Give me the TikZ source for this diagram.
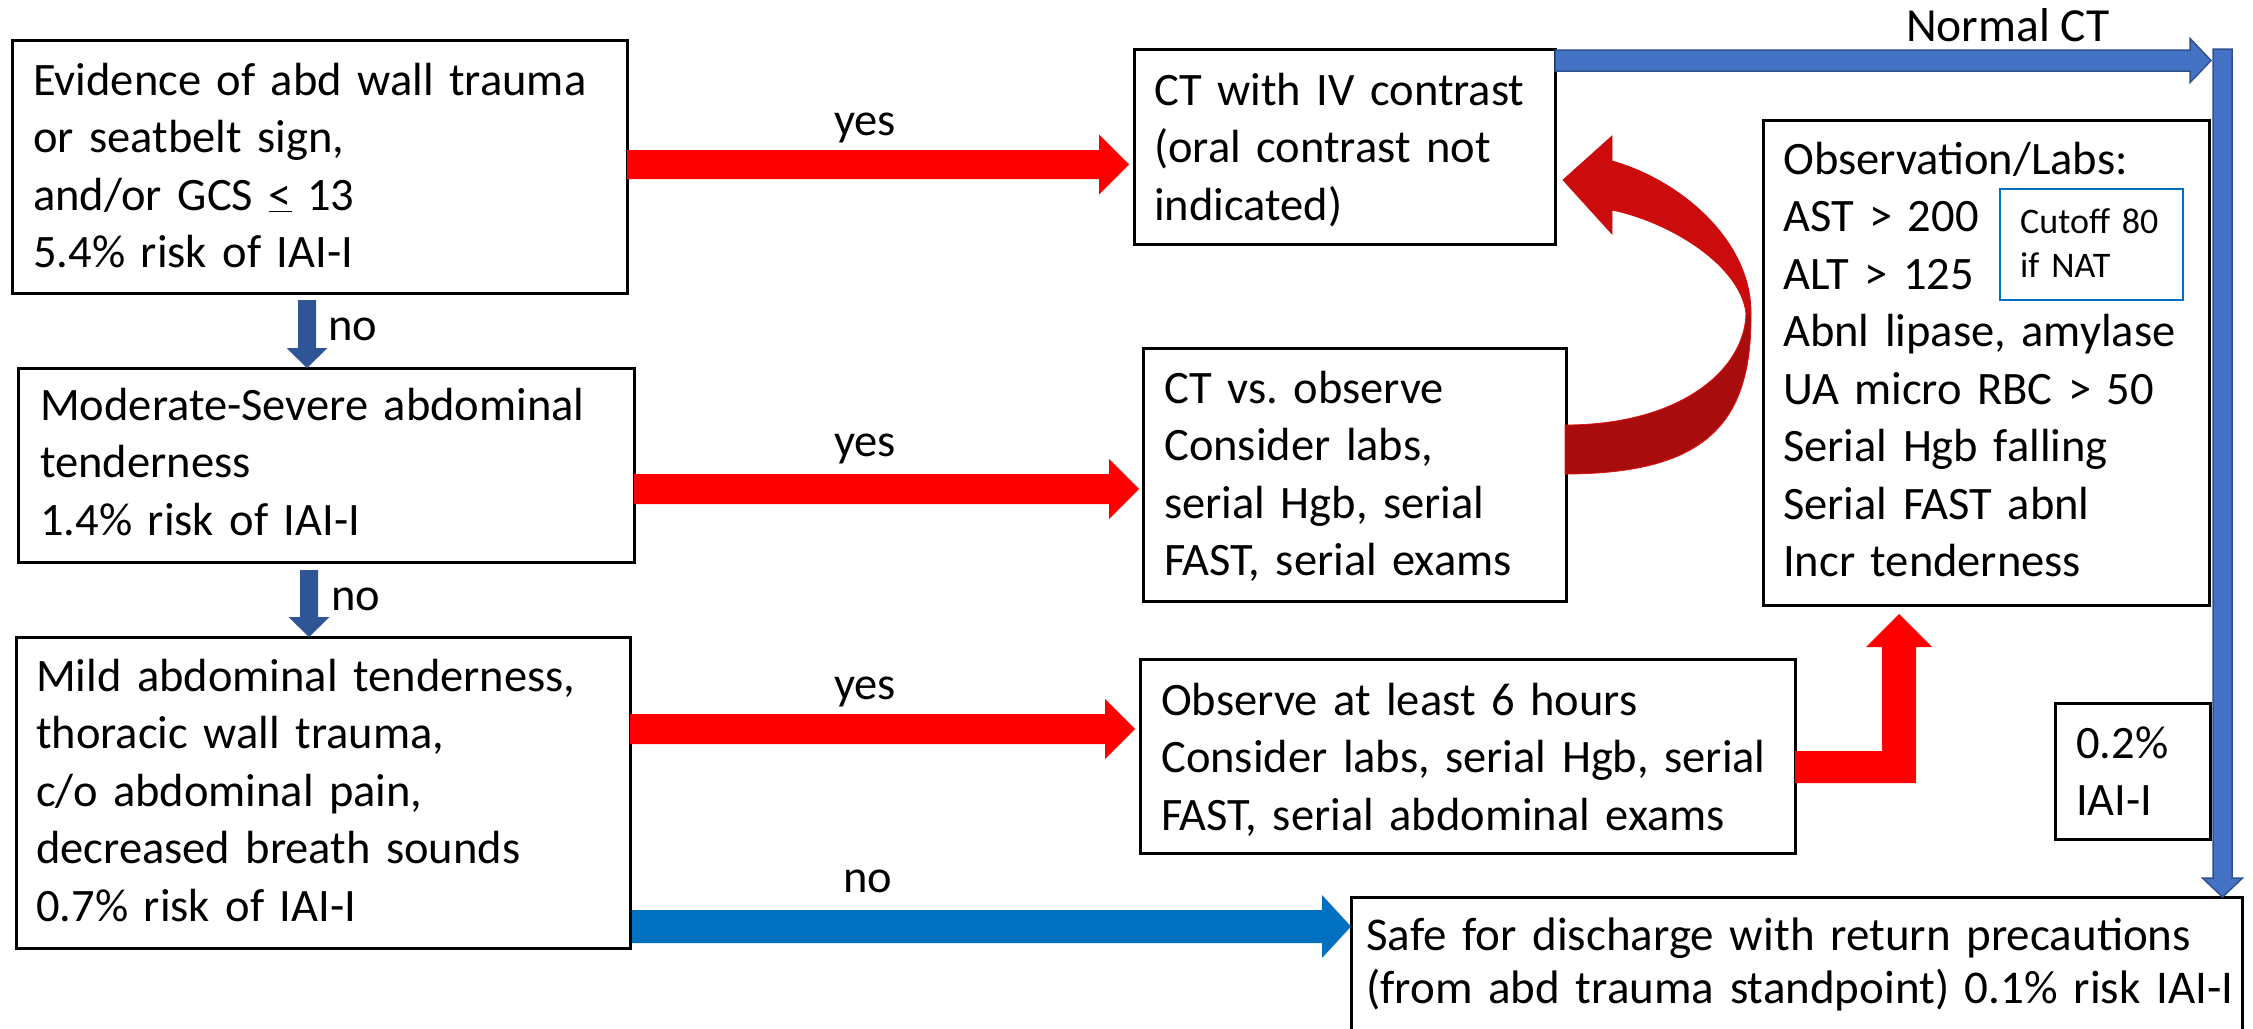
\documentclass[tikz,border=0pt]{standalone}
\usepackage{fontspec}
\setmainfont{Carlito}
\usetikzlibrary{calc}
\frenchspacing
\definecolor{arrred}{RGB}{255,0,0}
\definecolor{dkblue}{RGB}{47,85,151}
\definecolor{ctblue}{RGB}{68,114,196}
\definecolor{ctblueedge}{RGB}{47,82,143}
\definecolor{noblue}{RGB}{0,112,192}
\definecolor{curvelight}{RGB}{204,12,12}
\definecolor{curvedark}{RGB}{168,12,12}
\definecolor{curveedge}{RGB}{225,20,20}
% block arrow to the right: style, from, to, half shaft, half head, head length
\newcommand{\rblock}[6]{\path[#1] let \p1=#2, \p2=#3 in
  (\x1,\y1+#4) -- (\x2-#6,\y1+#4) -- (\x2-#6,\y1+#5) -- (\x2,\y1) --
  (\x2-#6,\y1-#5) -- (\x2-#6,\y1-#4) -- (\x1,\y1-#4) -- cycle;}
% block arrow downwards
\newcommand{\dblock}[6]{\path[#1] let \p1=#2, \p2=#3 in
  (\x1-#4,\y1) -- (\x1-#4,\y2+#6) -- (\x1-#5,\y2+#6) -- (\x1,\y2) --
  (\x1+#5,\y2+#6) -- (\x1+#4,\y2+#6) -- (\x1+#4,\y1) -- cycle;}
\begin{document}
\begin{tikzpicture}[x=1pt,y=-1pt,
  box/.style={draw=black,line width=3pt,fill=white,inner sep=0pt,outer sep=0pt,anchor=north west},
  txt/.style={anchor=base west,align=left,inner sep=0pt,text width=#1,font=\fontsize{46.5}{57.5}\selectfont},
  txt/.default=620pt,
  lbl/.style={inner sep=0pt,font=\fontsize{46.5}{52}\selectfont},
  redarrow/.style={fill=arrred},
  nobluearrow/.style={fill=dkblue},
  ctarrow/.style={fill=ctblue,draw=ctblueedge,line width=1.5pt},
  discharge/.style={fill=noblue}]
\useasboundingbox (0,0) rectangle (2253,1028);

% ---- boxes ----
\node[box,minimum width=615pt,minimum height=253pt] (b1) at (12,40) {};
\node[box,minimum width=616pt,minimum height=194pt] (b2) at (18,368) {};
\node[box,minimum width=614pt,minimum height=311pt] (b3) at (16,637) {};
\node[box,minimum width=421pt,minimum height=195pt] (ct) at (1134,49) {};
\node[box,minimum width=423pt,minimum height=253pt] (ctv) at (1143,348) {};
\node[box,minimum width=655pt,minimum height=194pt] (obs) at (1140,659) {};
\node[box,minimum width=446pt,minimum height=485pt] (lab) at (1763,120) {};
\node[box,draw=noblue,line width=2.5pt,minimum width=183pt,minimum height=111pt] (cut) at (2000,189) {};
\node[box,minimum width=155pt,minimum height=136pt] (p02) at (2055,703) {};
\node[box,minimum width=891pt,minimum height=143pt] (safe) at (1351,897) {};

% ---- texts ----
\node[txt] (t1) at (33,95) {Evidence of abd wall trauma\\or seatbelt sign,\\and/or GCS \underline{<} 13\\5.4\% risk of IAI-I};
\node[txt] (t2) at (40,420) {Moderate-Severe abdominal\\tenderness\\1.4\% risk of IAI-I};
\node[txt] (t3) at (36,691) {Mild abdominal tenderness,\\thoracic wall trauma,\\c/o abdominal pain,\\decreased breath sounds\\0.7\% risk of IAI-I};
\node[txt=420pt] (tct) at (1154,105) {CT with IV contrast\\(oral contrast not\\indicated)};
\node[txt=420pt] (tctv) at (1164,403) {CT vs. observe\\Consider labs,\\serial Hgb, serial\\FAST, serial exams};
\node[txt=660pt] (tobs) at (1161,715) {Observe at least 6 hours\\Consider labs, serial Hgb, serial\\FAST, serial abdominal exams};
\node[txt=440pt] (tlab) at (1783,174) {Observation/Labs:\\AST > 200\\ALT > 125\\Abnl lipase, amylase\\UA micro RBC > 50\\Serial Hgb falling\\Serial FAST abnl\\Incr tenderness};
\node[txt=175pt,font=\fontsize{36}{44}\selectfont] (tcut) at (2020,233) {Cutoff 80\\if NAT};
\node[txt=150pt] (tp02) at (2076,758) {0.2\%\\IAI-I};
\node[txt=900pt,font=\fontsize{47}{53}\selectfont] (tsafe) at (1366,950) {Safe for discharge with return precautions\\(from abd trauma standpoint) 0.1\% risk IAI-I};

% ---- labels ----
\node[lbl,anchor=base] (y1) at (865,135) {yes};
\node[lbl,anchor=base] (y2) at (865,456) {yes};
\node[lbl,anchor=base] (y3) at (865,699) {yes};
\node[lbl,anchor=base west] (n1) at (328,340) {no};
\node[lbl,anchor=base west] (n2) at (331,610) {no};
\node[lbl,anchor=base] (n3) at (868,892) {no};
\node[lbl,anchor=base west,font=\fontsize{47.5}{52}\selectfont] (nct) at (1906,41) {Normal CT};

% ---- connector coordinates ----
\coordinate (a1s) at ($(b1.east)+(0,-2)$);
\coordinate (a1e) at ($(ct.west |- a1s)+(-5,0)$);
\coordinate (a2s) at ($(b2.east)+(0,24)$);
\coordinate (a2e) at ($(ctv.west |- a2s)+(-4,0)$);
\coordinate (a3s) at ($(b3.east)+(0,-63.5)$);
\coordinate (a3e) at ($(obs.west |- a3s)+(-5,0)$);
\coordinate (d1s) at ($(b1.south)+(-12.5,7)$);
\coordinate (d1e) at (d1s |- b2.north);
\coordinate (d2s) at ($(b2.south)+(-17,8)$);
\coordinate (d2e) at (d2s |- b3.north);
\coordinate (n1s) at ($(b3.east)+(2,134)$);
\coordinate (n1e) at (safe.west |- n1s);
\coordinate (vtop) at (2222.5,49);
\coordinate (n0s) at ($(ct.north east)+(0,11.5)$);
\coordinate (n0e) at ($(vtop |- n0s)+(-11.5,0)$);
\coordinate (bs) at ($(obs.east)+(0,11)$);
\coordinate (bt) at ($(lab.south)+(-87,9)$);

% ---- connectors ----
\rblock{redarrow}{(a1s)}{(a1e)}{14.5pt}{30pt}{30pt}
\rblock{redarrow}{(a2s)}{(a2e)}{15pt}{30pt}{30pt}
\rblock{redarrow}{(a3s)}{(a3e)}{15pt}{30pt}{30pt}
\dblock{nobluearrow}{(d1s)}{(d1e)}{9pt}{20.5pt}{20pt}
\dblock{nobluearrow}{(d2s)}{(d2e)}{9pt}{20.5pt}{20pt}
\rblock{discharge}{(n1s)}{(n1e)}{16.5pt}{31.5pt}{29pt}
\rblock{ctarrow}{(n0s)}{(n0e)}{10.5pt}{22pt}{21pt}
\dblock{ctarrow}{(vtop)}{(vtop |- safe.north)}{9.5pt}{20pt}{19pt}
% bent arrow from observe box up to observation/labs
\path[redarrow] let \p1=(bs), \p2=(bt) in
  (\x1,\y1+16pt) -- (\x2-17pt,\y1+16pt) -- (\x2-17pt,\y2-33pt) -- (\x2-33pt,\y2-33pt) --
  (\x2,\y2) -- (\x2+33pt,\y2-33pt) -- (\x2+17pt,\y2-33pt) -- (\x2+17pt,\y1-16pt) --
  (\x1,\y1-16pt) -- cycle;
% curved arrow from CT vs observe back to CT
\begin{scope}[shift={(ctv.north east)}]
  \path[fill=curvedark,draw=curveedge,line width=0.8pt]
    (185,-35) .. controls (186,72) and (144,126) .. (-1,126) -- (-1,77)
    .. controls (114,77) and (179,22) .. (180,-35) -- cycle;
  \path[fill=curvelight,draw=curvelight,line width=0.8pt]
    (46,-187) .. controls (114,-168) and (185,-108) .. (185,-35) -- (180,-35)
    .. controls (174,-83) and (104,-126) .. (46,-138) -- (46,-114) -- (-3,-168)
    -- (46,-212) -- cycle;
\end{scope}
\end{tikzpicture}
\end{document}
